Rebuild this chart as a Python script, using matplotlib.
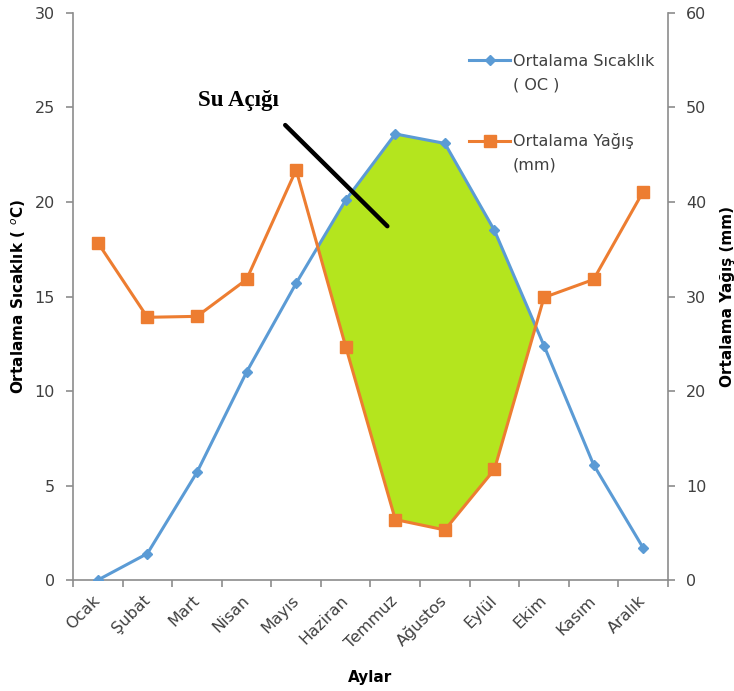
import matplotlib
matplotlib.use("Agg")
import matplotlib.pyplot as plt
import numpy as np
from matplotlib import font_manager as fm
from matplotlib.lines import Line2D

months = ['Ocak', 'Şubat', 'Mart', 'Nisan', 'Mayıs', 'Haziran', 'Temmuz',
          'Ağustos', 'Eylül', 'Ekim', 'Kasım', 'Aralık']
temp = [0.0, 1.4, 5.7, 11.0, 15.7, 20.1, 23.6, 23.1, 18.5, 12.4, 6.1, 1.7]
precip = [35.7, 27.8, 27.9, 31.8, 43.4, 24.7, 6.4, 5.3, 11.7, 29.9, 31.8, 41.1]
temp_ticks = [0, 5, 10, 15, 20, 25, 30]
precip_ticks = [0, 10, 20, 30, 40, 50, 60]


def pick(names, weight='normal'):
    for n in names:
        try:
            fm.findfont(fm.FontProperties(family=n, weight=weight), fallback_to_default=False)
            return n
        except ValueError:
            pass
    return 'DejaVu Sans'


label_font = pick(['Liberation Sans Narrow', 'DejaVu Sans'], 'bold')
serif_font = pick(['Liberation Serif', 'DejaVu Serif'], 'bold')

plt.rcParams['font.family'] = ['DejaVu Sans']

BLUE = '#5B9BD5'
ORANGE = '#ED7D31'
GREEN = '#B4E51E'
GRAY = '#8C8C8C'
TXT = '#404040'

fig = plt.figure(figsize=(7.34, 6.91), dpi=100)
ax = fig.add_axes([0.0995, 0.1606, 0.8105, 0.8206])
ax2 = ax.twinx()

x = np.arange(len(months))
t = np.array(temp)
p = np.array(precip)
p_scaled = p * (temp_ticks[-1] / precip_ticks[-1])

ax.fill_between(x, t, p_scaled, where=t > p_scaled, interpolate=True,
                facecolor=GREEN, edgecolor='white', linestyle=':', linewidth=1.0, zorder=1)

ax.plot(x, t, color=BLUE, lw=2.2, marker='D', ms=5.5, zorder=3)
ax2.plot(x, p, color=ORANGE, lw=2.2, marker='s', ms=8, zorder=3)

ax.set_xlim(-0.5, len(months) - 0.5)
ax.set_ylim(temp_ticks[0], temp_ticks[-1])
ax2.set_ylim(precip_ticks[0], precip_ticks[-1])
ax.set_yticks(temp_ticks)
ax2.set_yticks(precip_ticks)
ax.set_xticks(x)
ax.set_xticklabels(months, rotation=45, ha='right', va='center', rotation_mode='anchor')
ax.set_xticks(np.arange(-0.5, len(months)), minor=True)

for a in (ax, ax2):
    a.spines['top'].set_visible(False)
ax2.spines['left'].set_visible(False)
ax2.spines['bottom'].set_visible(False)
ax.spines['right'].set_visible(False)
for s in ('left', 'bottom'):
    ax.spines[s].set_color(GRAY)
    ax.spines[s].set_linewidth(1.2)
ax2.spines['right'].set_color(GRAY)
ax2.spines['right'].set_linewidth(1.2)

ax.tick_params(axis='x', which='major', length=0, pad=13, labelsize=11.5, labelcolor=TXT)
ax.tick_params(axis='x', which='minor', length=5, width=1.2, color=GRAY, direction='out')
ax.tick_params(axis='y', length=5, width=1.2, color=GRAY, direction='out', pad=8,
               labelsize=11.5, labelcolor=TXT)
ax2.tick_params(axis='y', length=5, width=1.2, color=GRAY, direction='out', pad=8,
                labelsize=11.5, labelcolor=TXT)

ax.set_ylabel('Ortalama Sıcaklık ( $^{o}$C)', fontfamily=label_font, fontweight='bold',
              fontsize=11, labelpad=5)
ax2.set_ylabel('Ortalama Yağış (mm)', fontfamily=label_font, fontweight='bold',
               fontsize=11, labelpad=10)
ax.set_xlabel('Aylar', fontfamily=label_font, fontweight='bold', fontsize=11, labelpad=14)

# annotation
ax.text(2.02, 25.1, 'Su Açığı', fontfamily=serif_font, fontweight='bold', fontsize=16.5,
        ha='left', va='baseline', color='black', zorder=5)
ax.annotate('', xy=(5.84, 18.72), xytext=(3.78, 24.07),
            arrowprops=dict(arrowstyle='-', lw=3.2, color='black', shrinkA=0, shrinkB=0,
                            capstyle='round'), zorder=5)

handles = [Line2D([], [], color=BLUE, lw=2.2, marker='D', ms=5.5),
           Line2D([], [], color=ORANGE, lw=2.2, marker='s', ms=8)]
leg = ax2.legend(handles, ['Ortalama Sıcaklık', 'Ortalama Yağış'], loc='upper left',
                 bbox_to_anchor=(0.6655, 0.9285), frameon=False, fontsize=11.5,
                 handlelength=2.6, handletextpad=0.15, borderpad=0, borderaxespad=0,
                 labelspacing=4.06)
for txt in leg.get_texts():
    txt.set_color(TXT)
ax2.text(0.739, 0.873, '( OC )', transform=ax2.transAxes, fontsize=11.5, color=TXT,
         ha='left', va='center')
ax2.text(0.739, 0.7325, '(mm)', transform=ax2.transAxes, fontsize=11.5, color=TXT,
         ha='left', va='center')

fig.savefig('out.png', dpi=100)
